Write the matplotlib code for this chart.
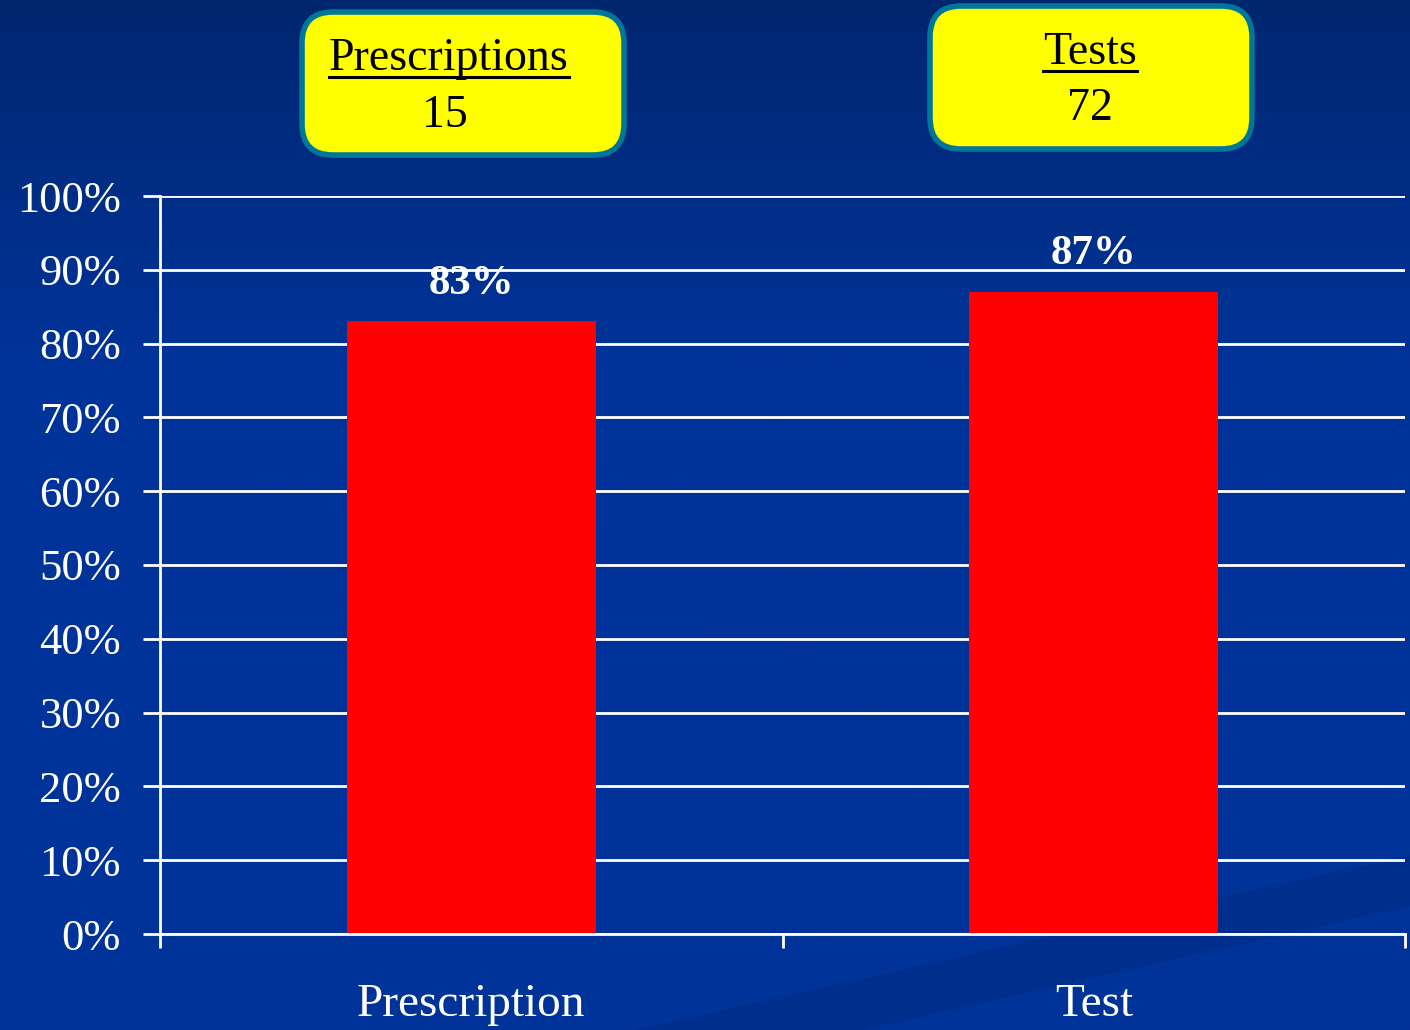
import matplotlib
matplotlib.use("Agg")
import matplotlib.pyplot as plt
import numpy as np
from matplotlib.patches import FancyBboxPatch
from matplotlib.ticker import FixedLocator, PercentFormatter

categories = ["Prescription", "Test"]
values = [83, 87]
yticks = [0, 10, 20, 30, 40, 50, 60, 70, 80, 90, 100]
box_titles = ["Prescriptions", "Tests"]
box_counts = [15, 72]

plt.rcParams['font.family'] = ['Liberation Serif', 'DejaVu Serif']

fig = plt.figure(figsize=(14.1, 10.3), dpi=100)
fig.patch.set_facecolor('#003399')

# background gradient (darker at the top)
bg = fig.add_axes([0, 0, 1, 1], zorder=-10)
grad = np.clip(np.linspace(0, 1, 512) / 0.35, 0, 1).reshape(-1, 1)
cmap = matplotlib.colors.LinearSegmentedColormap.from_list('bg', ['#00266f', '#003399'])
bg.imshow(grad, aspect='auto', cmap=cmap, extent=[0, 1, 0, 1], origin='upper')
# faint diagonal band in the lower right
bg.fill([0.45, 1.0, 1.0, 0.45], [0.0, 0.17, 0.12, -0.05], color='#002c85', alpha=0.6, lw=0)
bg.set_xlim(0, 1)
bg.set_ylim(0, 1)
bg.axis('off')

ax = fig.add_axes([160 / 1410, 96 / 1030, 1245 / 1410, 738 / 1030])
ax.set_facecolor('none')
x = np.arange(len(categories))
bars = ax.bar(x, values, width=0.4, color='#ff0000', zorder=3)
ax.set_xlim(-0.5, len(categories) - 0.5)
ax.set_ylim(0, 100)

ax.set_yticks(yticks)
ax.yaxis.set_major_formatter(PercentFormatter(decimals=0))
ax.grid(axis='y', color='white', lw=2, zorder=1)
ax.tick_params(axis='y', colors='white', labelsize=32, length=12, width=2, pad=16)
for lab in ax.get_yticklabels():
    lab.set_color('white')

ax.set_xticks(x)
ax.set_xticklabels(categories)
ax.tick_params(axis='x', which='major', length=0, labelsize=34, labelcolor='white', pad=36)
ax.xaxis.set_minor_locator(FixedLocator(np.arange(len(categories) + 1) - 0.5))
ax.tick_params(axis='x', which='minor', length=10, width=2, color='white')

for s in ['top', 'right']:
    ax.spines[s].set_visible(False)
for s in ['left', 'bottom']:
    ax.spines[s].set_color('white')
    ax.spines[s].set_linewidth(2)
    ax.spines[s].set_zorder(4)

for b, v in zip(bars, values):
    ax.text(b.get_x() + b.get_width() / 2, v + 2.5, f"{v}%", ha='center', va='bottom',
            color='white', fontsize=31, fontweight='bold')

# yellow label boxes
boxes = [(302, 12, 322, 143), (930, 6, 322, 143)]
title_x = [449, 1090]
title_y = [59, 53]
count_x = [445, 1090]
count_y = [116, 109]
for (bx, by, bw, bh), t, c, tx, ty, cx, cy in zip(boxes, box_titles, box_counts, title_x, title_y, count_x, count_y):
    p = FancyBboxPatch((bx / 1410, 1 - (by + bh) / 1030), bw / 1410, bh / 1030,
                       boxstyle="round,pad=0,rounding_size=0.022", transform=fig.transFigure,
                       facecolor='#ffff00', edgecolor='#007799', lw=4, mutation_aspect=1410 / 1030)
    fig.patches.append(p)
    tt = fig.text(tx / 1410, 1 - ty / 1030, t, ha='center', va='center', fontsize=33, color='black')
    fig.text(cx / 1410, 1 - cy / 1030, str(c), ha='center', va='center', fontsize=33, color='black')
    fig.canvas.draw()
    ext = tt.get_window_extent()
    uy = ext.y0 + 3
    fig.add_artist(plt.Line2D([ext.x0 / 1410, ext.x1 / 1410], [uy / 1030, uy / 1030],
                              transform=fig.transFigure, color='black', lw=2.2))

fig.savefig('out.png', dpi=100, facecolor=fig.get_facecolor())
